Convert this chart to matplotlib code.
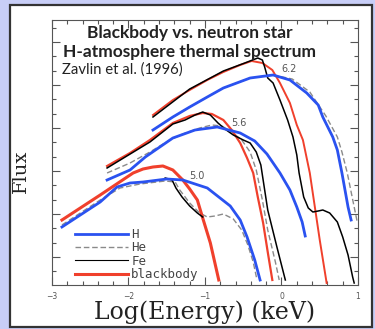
import numpy as np
import matplotlib
matplotlib.use("Agg")
import matplotlib.pyplot as plt
from matplotlib.patches import Rectangle
from matplotlib.lines import Line2D
from matplotlib.ticker import MultipleLocator, FixedLocator

# log T = 6.2
bb62_x = [-1.68, -1.42, -1.20, -0.97, -0.76, -0.54, -0.39, -0.25, -0.12, -0.02, 0.11, 0.20, 0.28, 0.37, 0.50, 0.59]
bb62_y = [17.0, 18.5, 19.5, 20.5, 21.3, 22.0, 22.4, 22.2, 21.5, 20.2, 18.2, 16.0, 14.5, 11.2, 4.5, 0.2]
fe62_x = [-1.68, -1.20, -0.76, -0.48, -0.31, -0.25, -0.22, -0.18, -0.11, -0.02, 0.08, 0.15, 0.20, 0.23,
          0.29, 0.35, 0.41, 0.48, 0.54, 0.63, 0.73, 0.80, 0.87, 0.93, 0.95]
fe62_y = [16.8, 19.6, 21.4, 22.2, 22.7, 22.5, 21.8, 20.7, 20.2, 18.5, 16.5, 14.8, 13.0, 11.2,
          8.8, 7.7, 7.3, 7.4, 7.5, 7.2, 6.3, 4.8, 3.0, 0.8, 0.2]
h62_x = [-1.68, -1.42, -1.20, -0.97, -0.76, -0.41, -0.11, 0.11, 0.33, 0.48, 0.54, 0.67, 0.73, 0.79, 0.87, 0.91]
h62_y = [15.5, 16.8, 17.8, 18.8, 19.7, 20.7, 21.0, 20.5, 19.2, 18.0, 16.8, 14.8, 13.5, 11.2, 7.8, 6.5]
he62_x = [-1.68, -1.42, -1.20, -0.97, -0.76, -0.41, -0.11, 0.14, 0.37, 0.58, 0.73, 0.79, 0.86, 0.95, 0.99]
he62_y = [15.5, 16.8, 17.8, 18.8, 19.7, 20.7, 21.0, 20.6, 19.3, 16.9, 14.8, 13.3, 11.2, 7.8, 6.3]

# log T = 5.6
bb56_x = [-2.28, -1.98, -1.72, -1.42, -1.20, -1.03, -0.91, -0.76, -0.65, -0.54, -0.45, -0.37, -0.31, -0.24, -0.18, -0.12]
bb56_y = [11.9, 13.2, 14.5, 16.2, 16.9, 17.2, 17.1, 16.5, 15.5, 14.2, 12.7, 11.2, 8.8, 6.2, 3.3, 0.5]
fe56_x = [-2.28, -1.72, -1.42, -1.26, -1.13, -1.03, -0.93, -0.83, -0.74, -0.63, -0.50, -0.41, -0.33, -0.27,
          -0.22, -0.18, -0.06, 0.05]
fe56_y = [11.7, 14.3, 16.1, 16.5, 17.0, 17.3, 17.0, 16.2, 15.6, 15.0, 14.5, 14.2, 13.3, 12.0,
          9.5, 7.5, 3.8, 0.5]
h56_x = [-2.28, -1.98, -1.78, -1.42, -1.13, -0.84, -0.54, -0.35, -0.19, -0.02, 0.11, 0.20, 0.27, 0.31]
h56_y = [10.5, 11.5, 12.8, 14.7, 15.5, 15.8, 15.2, 14.4, 13.1, 11.2, 9.5, 7.8, 6.3, 4.9]
he56_x = [-2.28, -1.98, -1.72, -1.46, -1.29, -1.07, -0.91, -0.78, -0.65, -0.52, -0.41, -0.33, -0.25, -0.18, -0.08, -0.03]
he56_y = [11.2, 12.2, 13.3, 14.5, 15.1, 15.7, 16.0, 15.9, 15.3, 14.5, 13.3, 11.5, 8.5, 5.5, 2.3, 0.5]

# log T = 5.0
bb50_x = [-2.87, -2.37, -1.94, -1.81, -1.68, -1.55, -1.42, -1.29, -1.20, -1.10, -1.03, -0.93, -0.82]
bb50_y = [6.5, 9.0, 11.2, 11.6, 11.8, 11.9, 11.5, 10.5, 9.6, 8.5, 6.7, 4.2, 0.5]
h50_x = [-2.87, -2.37, -2.15, -1.98, -1.81, -1.50, -1.29, -0.97, -0.67, -0.54, -0.45, -0.35, -0.28]
h50_y = [5.8, 8.3, 9.8, 10.2, 10.3, 10.6, 10.5, 9.7, 7.9, 6.5, 4.8, 2.5, 0.5]
he50_x = [-2.87, -2.37, -2.11, -1.85, -1.52, -1.39, -1.33, -1.20, -1.07, -0.97, -0.87, -0.76, -0.63,
          -0.52, -0.44, -0.37, -0.32]
he50_y = [6.0, 8.5, 9.7, 10.1, 10.4, 10.3, 9.5, 8.2, 7.2, 6.8, 6.9, 7.1, 6.6,
          5.5, 4.0, 2.3, 0.5]
fe50_x = [-1.52, -1.43, -1.38, -1.30, -1.20, -1.10, -1.03]
fe50_y = [10.7, 10.5, 9.7, 8.8, 7.9, 7.2, 6.8]

temp_labels = ["6.2", "5.6", "5.0"]
temp_label_x = [0.10, -0.56, -1.10]
temp_label_y = [21.6, 16.2, 10.9]

legend_labels = ["H", "He", "Fe", "blackbody"]

BLUE = "#2a52f0"
RED = "#f0402c"
GREY = "#8a8a8a"

fig = plt.figure(figsize=(3.75, 3.29), dpi=100, facecolor="#c8cef7")
fig.patches.append(Rectangle((10 / 375, 2 / 329), 362 / 375, 322 / 329, transform=fig.transFigure,
                             facecolor="white", edgecolor="#333333", linewidth=1.6, zorder=-10))

ax = fig.add_axes([52 / 375, 44 / 329, 306 / 375, 265 / 329])
ax.set_facecolor("white")
ax.set_zorder(5)

groups = [
    (he62_x, he62_y, fe62_x, fe62_y, h62_x, h62_y, bb62_x, bb62_y, 1.4),
    (he56_x, he56_y, fe56_x, fe56_y, h56_x, h56_y, bb56_x, bb56_y, 1.6),
    (he50_x, he50_y, fe50_x, fe50_y, h50_x, h50_y, bb50_x, bb50_y, 2.2),
]
for hex_, hey, fex, fey, hx, hy, bx, by, bb_lw in groups:
    ax.plot(hex_, hey, color=GREY, lw=1.0, ls=(0, (4, 2)))
    ax.plot(bx, by, color=RED, lw=bb_lw)
    ax.plot(fex, fey, color="black", lw=1.1)
    ax.plot(hx, hy, color=BLUE, lw=2.0)

for lab, lx, ly in zip(temp_labels, temp_label_x, temp_label_y):
    ax.text(lx, ly, lab, fontsize=7, color="#555555", ha="center", va="center")

ax.text(-1.2, 24.7, "Blackbody vs. neutron star", fontsize=12.5, fontweight="bold",
        family="Lato", ha="center", va="baseline", color="#222222")
ax.text(-1.2, 22.8, "H-atmosphere thermal spectrum", fontsize=12.5, fontweight="bold",
        family="Lato", ha="center", va="baseline", color="#222222")
ax.text(-2.87, 21.1, "Zavlin et al. (1996)", fontsize=10.7, family="Lato",
        ha="left", va="baseline", color="#222222")

handles = [
    Line2D([], [], color=BLUE, lw=2.0),
    Line2D([], [], color=GREY, lw=1.0, ls=(0, (4, 2))),
    Line2D([], [], color="black", lw=0.8),
    Line2D([], [], color=RED, lw=2.2),
]
leg = ax.legend(handles, legend_labels, loc="lower left", bbox_to_anchor=(0.0384, -0.028),
                frameon=False, handlelength=4.25, handletextpad=0.24,
                labelspacing=0.03, prop={"family": "DejaVu Sans Mono", "size": 9})
for t in leg.get_texts():
    t.set_color("#444444")

ax.set_xlim(-3, 1)
ax.set_ylim(0, 26.5)
ax.xaxis.set_major_locator(MultipleLocator(1))
ax.xaxis.set_minor_locator(MultipleLocator(0.2))
ax.yaxis.set_major_locator(FixedLocator(np.arange(2.8, 26.5, 4.3)))
ax.yaxis.set_minor_locator(FixedLocator(np.arange(2.8 - 4.3 / 3, 26.5, 4.3 / 3)))
ax.tick_params(which="both", direction="in", top=True, right=True, colors="#555555", width=0.8)
ax.tick_params(which="major", length=6)
ax.tick_params(which="minor", length=3)
ax.tick_params(axis="x", labelsize=5.5, pad=5, labelcolor="#555555")
ax.set_yticklabels([])
for s in ax.spines.values():
    s.set_color("#555555")
    s.set_linewidth(0.8)

ax.set_xlabel("Log(Energy) (keV)", family="DejaVu Serif", fontsize=17, color="#222222", labelpad=0)
ax.set_ylabel("Flux", family="DejaVu Serif", fontsize=14, color="#222222")
ax.yaxis.set_label_coords(-0.072, 0.43)

fig.savefig("out.png", dpi=100, facecolor=fig.get_facecolor())
